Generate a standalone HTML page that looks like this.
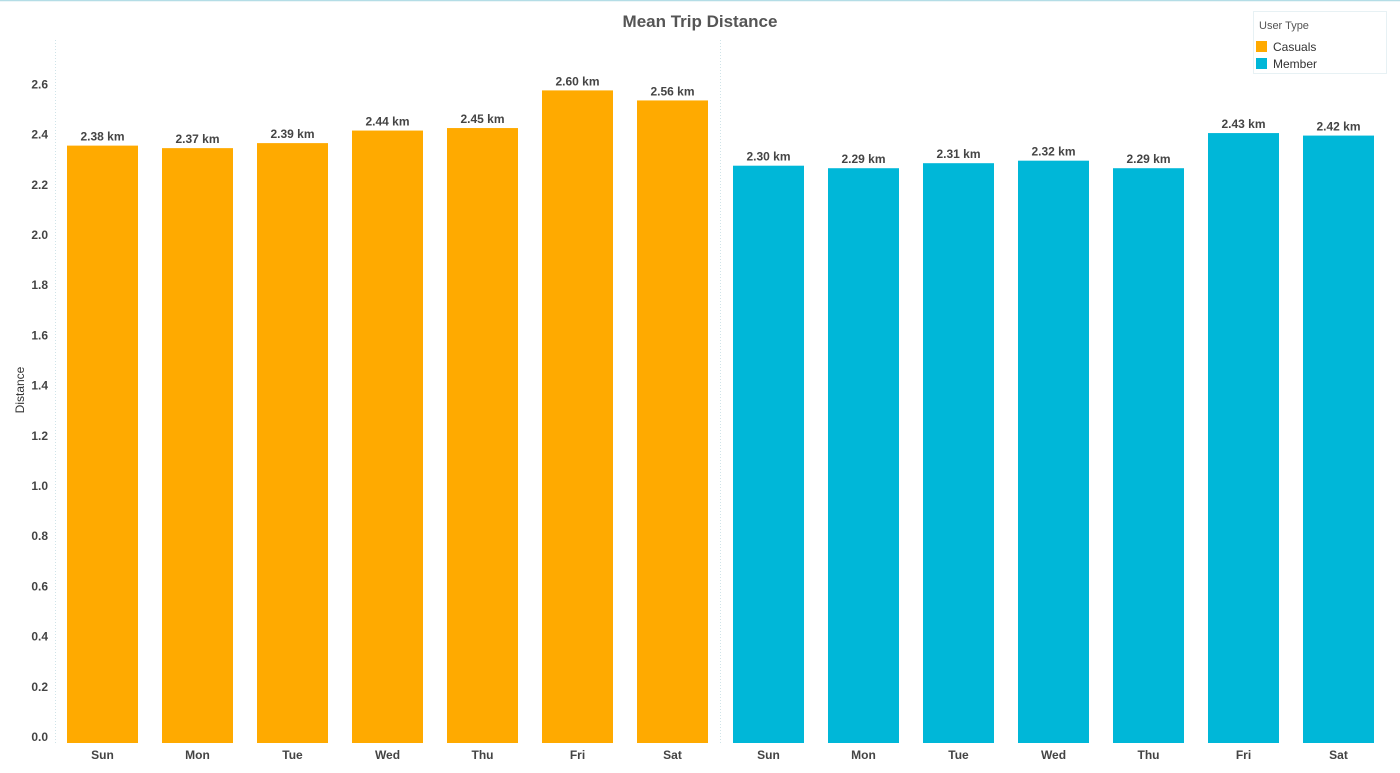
<!DOCTYPE html>
<html><head><meta charset="utf-8"><style>
body{margin:0;background:#fff;width:1400px;height:768px;overflow:hidden;font-family:"Liberation Sans",sans-serif}
svg text{font-family:"Liberation Sans",sans-serif}
</style></head><body>
<svg id="chart" width="1400" height="768">
<line x1="0" y1="0.5" x2="1400" y2="0.5" stroke="#b4dde6" stroke-width="1.5"/>
<text x="700" y="27" text-anchor="middle" font-size="17" font-weight="bold" fill="#555">Mean Trip Distance</text>
<text transform="translate(24,390) rotate(-90)" text-anchor="middle" font-size="12" fill="#333">Distance</text>
<line x1="55.5" y1="40" x2="55.5" y2="744" stroke="#cfe3e8" stroke-dasharray="1,2"/>
<line x1="720.5" y1="40" x2="720.5" y2="744" stroke="#cfe3e8" stroke-dasharray="1,2"/>
<g id="ticks"></g><g id="bars"></g>
<g>
<rect x="1253.5" y="11.5" width="133" height="62" fill="#fff" stroke="#cfe3e8" stroke-dasharray="1,1"/>
<text x="1259" y="29" font-size="11" fill="#555">User Type</text>
<rect x="1256" y="41" width="11" height="11" fill="#ffaa00"/>
<text x="1273" y="51" font-size="12" fill="#333">Casuals</text>
<rect x="1256" y="58" width="11" height="11" fill="#00b7d8"/>
<text x="1273" y="68" font-size="12" fill="#333">Member</text>
</g>
</svg>
<script>
const days=["Sun","Mon","Tue","Wed","Thu","Fri","Sat"];
const casualValues=[2.38,2.37,2.39,2.44,2.45,2.60,2.56];
const memberValues=[2.30,2.29,2.31,2.32,2.29,2.43,2.42];
const yTicks=[0,0.2,0.4,0.6,0.8,1.0,1.2,1.4,1.6,1.8,2.0,2.2,2.4,2.6];
const NS="http://www.w3.org/2000/svg";
const y=v=>743-v*251;
const xBar=i=>67+i*95+(i>=7?1:0);
const tg=document.getElementById('ticks'),bg=document.getElementById('bars');
function mk(tag,attrs,parent,txt){const e=document.createElementNS(NS,tag);for(const k in attrs)e.setAttribute(k,attrs[k]);if(txt!=null)e.textContent=txt;parent.appendChild(e);return e;}
yTicks.forEach(t=>{
  const e=mk('text',{x:48,y:y(t)-2,'text-anchor':'end','font-size':12,'font-weight':'bold',fill:'#444'},tg,t.toFixed(1));
  
  
});
const series=[{vals:casualValues,color:'#ffaa00',name:'casual',off:0},{vals:memberValues,color:'#00b7d8',name:'member',off:7}];
series.forEach(s=>{
  s.vals.forEach((v,i)=>{
    const x=xBar(i+s.off);
    const r=mk('rect',{x:x,y:y(v),width:71,height:743-y(v),fill:s.color},bg);
    
    
    const l=mk('text',{x:x+35.5,y:y(v)-5,'text-anchor':'middle','font-size':12,'font-weight':'bold',fill:'#444'},bg,v.toFixed(2)+' km');
    
    
    const d=mk('text',{x:x+35.5,y:759,'text-anchor':'middle','font-size':12,'font-weight':'bold',fill:'#444'},bg,days[i]);
    
    
  });
});
</script>
</body></html>
